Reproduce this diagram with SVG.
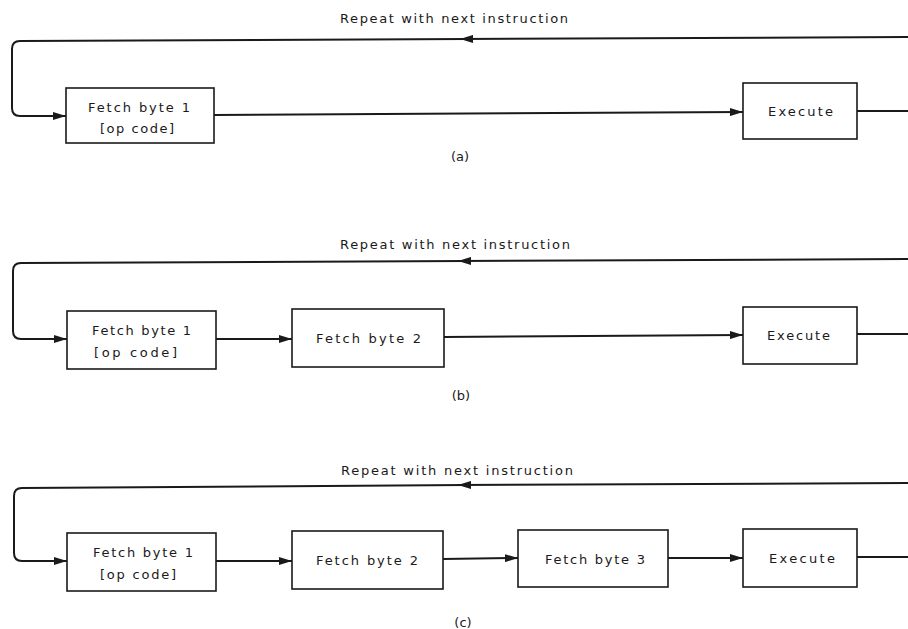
<svg xmlns="http://www.w3.org/2000/svg" width="908" height="629" viewBox="0 0 908 629">
<defs>
<style>
.box{fill:#fff;stroke:#1a1a1a;stroke-width:1.6}
.ln{fill:none;stroke:#1a1a1a;stroke-width:2}
.t{font-family:"DejaVu Sans","Liberation Sans",sans-serif;font-size:13px;fill:#1a1a1a}
.c{text-anchor:middle}
</style>
<marker id="ah" viewBox="0 0 13 8" refX="13" refY="4" markerWidth="13" markerHeight="8" markerUnits="userSpaceOnUse" orient="auto">
<path d="M0,0 L13,4 L0,8 Z" fill="#1a1a1a"/>
</marker>
</defs>
<rect width="908" height="629" fill="#fff"/>

<g id="connectors">
<!-- (a) -->
<path class="ln" d="M908,37 L460,39" marker-end="url(#ah)"/>
<path class="ln" d="M468,39 L20,41 Q12,41 12,49 V108 Q12,116 20,116 H66" marker-end="url(#ah)"/>
<path class="ln" d="M214,115 L743,112" marker-end="url(#ah)"/>
<path class="ln" d="M857,111 H908"/>
<!-- (b) -->
<path class="ln" d="M908,259 L458,261" marker-end="url(#ah)"/>
<path class="ln" d="M466,261 L21,263 Q13,263 13,271 V331 Q13,339 21,339 H67" marker-end="url(#ah)"/>
<path class="ln" d="M216,339 H292" marker-end="url(#ah)"/>
<path class="ln" d="M444,337 L743,335" marker-end="url(#ah)"/>
<path class="ln" d="M857,334 H908"/>
<!-- (c) -->
<path class="ln" d="M908,483 L458,485" marker-end="url(#ah)"/>
<path class="ln" d="M466,485 L22,488 Q14,488 14,496 V553 Q14,561 22,561 H67" marker-end="url(#ah)"/>
<path class="ln" d="M216,561 H292" marker-end="url(#ah)"/>
<path class="ln" d="M443,559 L518,558" marker-end="url(#ah)"/>
<path class="ln" d="M668,558 H743" marker-end="url(#ah)"/>
<path class="ln" d="M857,557 H908"/>
</g>

<g id="labels">
<text class="t" x="340" y="23" textLength="228" lengthAdjust="spacing">Repeat with next instruction</text>
<text class="t c" x="460" y="161">(a)</text>
<text class="t" x="340" y="249" textLength="230" lengthAdjust="spacing">Repeat with next instruction</text>
<text class="t c" x="461" y="400">(b)</text>
<text class="t" x="341" y="475" textLength="232" lengthAdjust="spacing">Repeat with next instruction</text>
<text class="t c" x="463" y="627">(c)</text>
</g>

<g id="a-fetch1">
<rect class="box" x="66" y="88" width="148" height="55"/>
<text class="t" x="88" y="112" textLength="102" lengthAdjust="spacing">Fetch byte 1</text>
<text class="t" x="100" y="133" textLength="74" lengthAdjust="spacing">[op code]</text>
</g>
<g id="a-execute">
<rect class="box" x="743" y="83" width="114" height="56"/>
<text class="t" x="768" y="116" textLength="65" lengthAdjust="spacing">Execute</text>
</g>

<g id="b-fetch1">
<rect class="box" x="67" y="311" width="149" height="58"/>
<text class="t" x="92" y="335" textLength="99" lengthAdjust="spacing">Fetch byte 1</text>
<text class="t" x="94" y="357" textLength="83" lengthAdjust="spacing">[op code]</text>
</g>
<g id="b-fetch2">
<rect class="box" x="292" y="309" width="152" height="58"/>
<text class="t" x="316" y="343" textLength="105" lengthAdjust="spacing">Fetch byte 2</text>
</g>
<g id="b-execute">
<rect class="box" x="743" y="307" width="114" height="57"/>
<text class="t" x="767" y="340" textLength="63" lengthAdjust="spacing">Execute</text>
</g>

<g id="c-fetch1">
<rect class="box" x="67" y="533" width="149" height="58"/>
<text class="t" x="93" y="557" textLength="100" lengthAdjust="spacing">Fetch byte 1</text>
<text class="t" x="100" y="579" textLength="76" lengthAdjust="spacing">[op code]</text>
</g>
<g id="c-fetch2">
<rect class="box" x="292" y="531" width="151" height="58"/>
<text class="t" x="316" y="565" textLength="102" lengthAdjust="spacing">Fetch byte 2</text>
</g>
<g id="c-fetch3">
<rect class="box" x="518" y="530" width="150" height="57"/>
<text class="t" x="545" y="564" textLength="100" lengthAdjust="spacing">Fetch byte 3</text>
</g>
<g id="c-execute">
<rect class="box" x="743" y="529" width="114" height="58"/>
<text class="t" x="769" y="563" textLength="66" lengthAdjust="spacing">Execute</text>
</g>
</svg>
